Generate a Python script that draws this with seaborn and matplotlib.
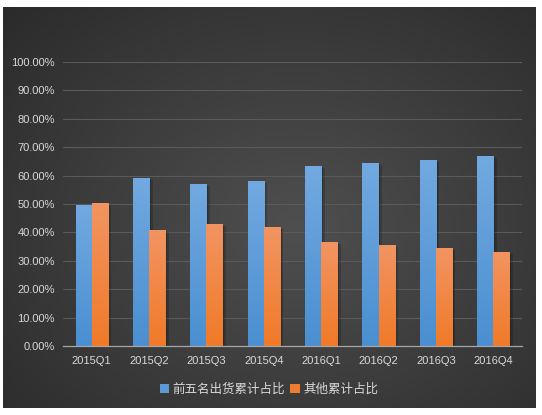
import numpy as np
import pandas as pd
import matplotlib
matplotlib.use('Agg')
import matplotlib.pyplot as plt
import matplotlib.patheffects as pe
from matplotlib.colors import LinearSegmentedColormap
import seaborn as sns

# data (percent)
quarters = ['2015Q1', '2015Q2', '2015Q3', '2015Q4', '2016Q1', '2016Q2', '2016Q3', '2016Q4']
top5_share = [49.6, 59.2, 57.0, 58.1, 63.4, 64.4, 65.6, 66.9]
other_share = [50.4, 40.8, 43.0, 41.9, 36.6, 35.6, 34.4, 33.1]
series_names = ['前五名出货累计占比', '其他累计占比']
y_ticks = [0, 10, 20, 30, 40, 50, 60, 70, 80, 90, 100]

df = pd.DataFrame({
    'quarter': quarters * 2,
    'share': top5_share + other_share,
    'series': [series_names[0]] * len(quarters) + [series_names[1]] * len(quarters),
})

sns.set_theme(style='dark')
plt.rcParams['font.family'] = ['Liberation Sans', 'Noto Sans CJK SC', 'DejaVu Sans']

W, H = 542, 415
fig = plt.figure(figsize=(W / 100, H / 100), dpi=100)
fig.patch.set_facecolor('white')

# dark panel with a radial gradient
bg = fig.add_axes([3 / W, 7 / H, 533 / W, 401 / H])
yy, xx = np.mgrid[0:1:200j, 0:1:260j]
r = np.sqrt(((xx - 0.55) / 0.75) ** 2 + ((yy - 0.55) / 0.8) ** 2)
r = np.clip(r, 0, 1)
bg_cmap = LinearSegmentedColormap.from_list('bg', ['#4f4f4f', '#2b2b2b'])
bg.imshow(r, cmap=bg_cmap, aspect='auto', extent=[0, 1, 0, 1], vmin=0, vmax=1)
bg.set_axis_off()

ax = fig.add_axes([63 / W, 69 / H, 459 / W, 284 / H])
ax.patch.set_alpha(0)

palette = {series_names[0]: '#5B9BD5', series_names[1]: '#ED7D31'}
sns.barplot(data=df, x='quarter', y='share', hue='series', palette=palette,
            width=0.56, saturation=1, edgecolor='none', ax=ax)

# gradient fill + soft shadow on each bar
grad = {
    '#5b9bd5': LinearSegmentedColormap.from_list('b', ['#4a8fd1', '#72a9e0']),
    '#ed7d31': LinearSegmentedColormap.from_list('o', ['#f07a28', '#f29462']),
}
xl = ax.get_xlim()
for p in list(ax.patches):
    h = p.get_height()
    if not h or np.isnan(h):
        continue
    key = matplotlib.colors.to_hex(p.get_facecolor())
    p.set_path_effects([pe.SimplePatchShadow(offset=(2.5, -1.5), shadow_rgbFace='black', alpha=0.18),
                        pe.SimplePatchShadow(offset=(1.2, -0.8), shadow_rgbFace='black', alpha=0.18),
                        pe.Normal()])
    if key in grad:
        g = np.linspace(0, 1, 64).reshape(-1, 1)
        im = ax.imshow(g, cmap=grad[key], origin='lower', aspect='auto',
                       extent=[p.get_x(), p.get_x() + p.get_width(), 0, h], zorder=p.get_zorder() + 0.1)
        im.set_clip_path(p)
ax.set_xlim(xl)
ax.set_ylim(0, 100)

ax.set_yticks(y_ticks)
ax.set_yticklabels([f'{v:.2f}%' for v in y_ticks])
ax.set_xlabel('')
ax.set_ylabel('')
ax.tick_params(axis='both', length=0, colors='#D9D9D9', labelsize=8)
ax.tick_params(axis='x', pad=7)
ax.tick_params(axis='y', pad=6)

ax.yaxis.grid(True, color='#5a5a5a', linewidth=0.8)
ax.xaxis.grid(False)
ax.set_axisbelow(True)
for s in ['top', 'right', 'left']:
    ax.spines[s].set_visible(False)
ax.spines['bottom'].set_color('#a6a6a6')
ax.spines['bottom'].set_linewidth(0.9)

handles, labels = ax.get_legend_handles_labels()
ax.legend(handles, labels, loc='center', bbox_to_anchor=(269 / W, 1 - 390 / H),
          bbox_transform=fig.transFigure, ncol=2, frameon=False, fontsize=9,
          labelcolor='#D9D9D9', handlelength=0.75, handleheight=0.75,
          handletextpad=0.3, columnspacing=0.4)

fig.savefig('out.png', dpi=100, facecolor='white')
